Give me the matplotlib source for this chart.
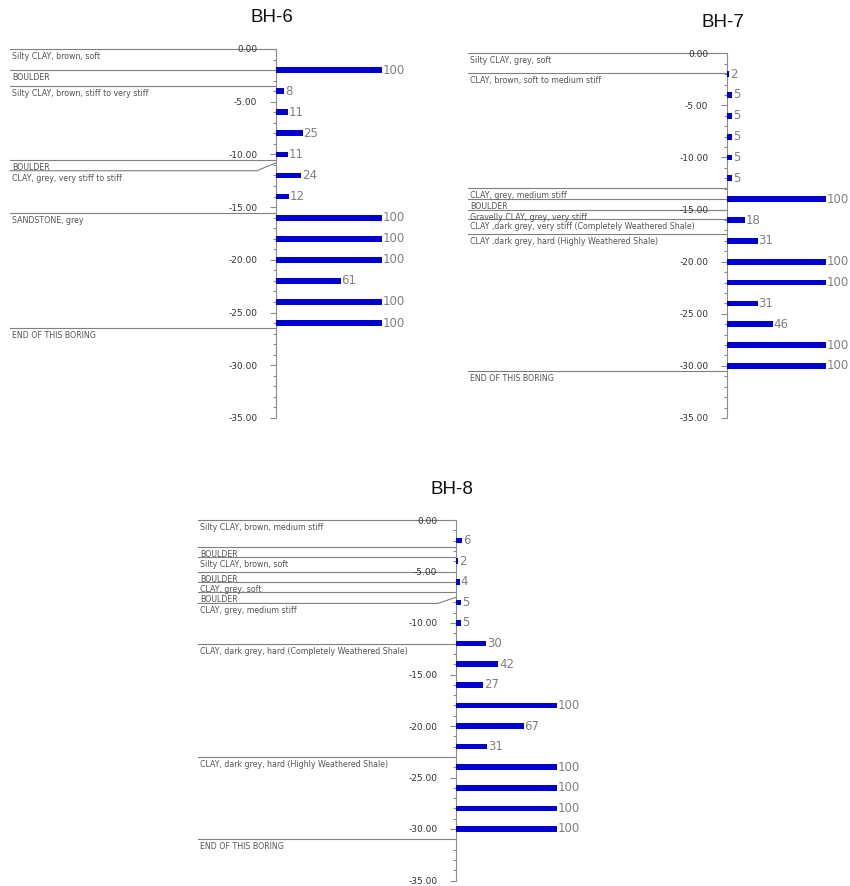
import numpy as np
import matplotlib.pyplot as plt

plt.rcParams['axes.unicode_minus'] = False

W, H = 850, 886

# SPT N values, one test every 2 m
bh6_depth = [2, 4, 6, 8, 10, 12, 14, 16, 18, 20, 22, 24, 26]
bh6_n = [100, 8, 11, 25, 11, 24, 12, 100, 100, 100, 61, 100, 100]

bh7_depth = [2, 4, 6, 8, 10, 12, 14, 16, 18, 20, 22, 24, 26, 28, 30]
bh7_n = [2, 5, 5, 5, 5, 5, 100, 18, 31, 100, 100, 31, 46, 100, 100]

bh8_depth = [2, 4, 6, 8, 10, 12, 14, 16, 18, 20, 22, 24, 26, 28, 30]
bh8_n = [6, 2, 4, 5, 5, 30, 42, 27, 100, 67, 31, 100, 100, 100, 100]

# soil layers: top of layer (m), depth where the line meets the axis, description
bh6_top = [0.0, 2.0, 3.5, 10.55, 11.55, 15.55, 26.45]
bh6_end = [0.0, 2.0, 3.5, 10.55, 10.8, 15.55, 26.45]
bh6_soil = ["Silty CLAY, brown, soft",
            "BOULDER",
            "Silty CLAY, brown, stiff to very stiff",
            "BOULDER",
            "CLAY, grey, very stiff to stiff",
            "SANDSTONE, grey",
            "END OF THIS BORING"]

bh7_top = [0.0, 1.9, 12.9, 14.0, 15.0, 15.9, 17.3, 30.5]
bh7_end = [0.0, 1.9, 12.9, 14.0, 15.0, 15.9, 17.3, 30.5]
bh7_soil = ["Silty CLAY, grey, soft",
            "CLAY, brown, soft to medium stiff",
            "CLAY, grey, medium stiff",
            "BOULDER",
            "Gravelly CLAY, grey, very stiff",
            "CLAY ,dark grey, very stiff (Completely Weathered Shale)",
            "CLAY ,dark grey, hard (Highly Weathered Shale)",
            "END OF THIS BORING"]

bh8_top = [0.0, 2.6, 3.55, 5.0, 6.0, 7.0, 8.1, 12.0, 23.0, 31.0]
bh8_end = [0.0, 2.6, 3.55, 5.0, 6.0, 7.0, 7.5, 12.0, 23.0, 31.0]
bh8_soil = ["Silty CLAY, brown, medium stiff",
            "BOULDER",
            "Silty CLAY, brown, soft",
            "BOULDER",
            "CLAY, grey, soft",
            "BOULDER",
            "CLAY, grey, medium stiff",
            "CLAY, dark grey, hard (Completely Weathered Shale)",
            "CLAY, dark grey, hard (Highly Weathered Shale)",
            "END OF THIS BORING"]

narrow = ['Liberation Sans Narrow', 'DejaVu Sans Condensed', 'DejaVu Sans']

fig = plt.figure(figsize=(W / 100, H / 100), dpi=100)


def draw_boring(name, depth, n, top, end, soil, box, origin, scale, line_left):
    # box = (left, top, right, bottom) in pixels, origin = pixel of N=0 / depth 0
    left, upper, right, lower = box
    x0, y0 = origin
    sx, sy = scale
    ax = fig.add_axes([left / W, 1 - lower / H, (right - left) / W, (lower - upper) / H])
    ax.set_xlim((left - x0) / sx, (right - x0) / sx)
    ax.set_ylim(-(lower - y0) / sy, -(upper - y0) / sy)
    ax.patch.set_visible(False)
    for s in ['top', 'right', 'bottom']:
        ax.spines[s].set_visible(False)
    ax.spines['left'].set_position(('data', 0))
    ax.spines['left'].set_bounds(-35, 0)
    ax.spines['left'].set_color('#8c8c8c')
    ax.set_xticks([])
    ax.set_yticks(np.arange(0, -36, -5))
    ax.set_yticks(np.arange(0, -36, -1), minor=True)
    ax.set_yticklabels(['%.2f' % v for v in np.arange(0, -36, -5)])
    ax.tick_params(axis='y', which='major', length=4.5, width=0.8, color='#8c8c8c',
                   pad=9, labelsize=6.5, labelcolor='#333333')
    ax.tick_params(axis='y', which='minor', length=2.5, width=0.8, color='#8c8c8c')
    for lab in ax.get_yticklabels():
        lab.set_family(narrow)

    # soil layer boundaries and descriptions
    xl = (line_left - x0) / sx
    for d, e, txt in zip(top, end, soil):
        if e == d:
            ax.plot([xl, 0], [-d, -d], color='#808080', lw=0.8, zorder=1)
        else:
            ax.plot([xl, -18, 0], [-d, -d, -e], color='#808080', lw=0.8, zorder=1)
        ax.annotate(txt, (xl, -d), xytext=(1.5, -2.2), textcoords='offset points',
                    ha='left', va='top', fontsize=5.7, color='#555555')

    bars = ax.barh([-d for d in depth], n, height=0.55, color='#0000d0', zorder=3)
    ax.bar_label(bars, labels=[str(v) for v in n], padding=0.5,
                 fontsize=8.5, color='#808080')

    ax.text(-4, 3.0, name, ha='center', va='center', fontsize=13.5,
            family='Liberation Sans', color='#111111')
    return ax


draw_boring('BH-6', bh6_depth, bh6_n, bh6_top, bh6_end, bh6_soil,
            box=(0, 0, 425, 430), origin=(276, 49), scale=(1.06, 10.54), line_left=10)
draw_boring('BH-7', bh7_depth, bh7_n, bh7_top, bh7_end, bh7_soil,
            box=(455, 0, 850, 430), origin=(727, 53.3), scale=(0.99, 10.42), line_left=468)
draw_boring('BH-8', bh8_depth, bh8_n, bh8_top, bh8_end, bh8_soil,
            box=(180, 470, 600, 886), origin=(456, 520), scale=(1.01, 10.3), line_left=198)

fig.savefig('out.png', dpi=100)
